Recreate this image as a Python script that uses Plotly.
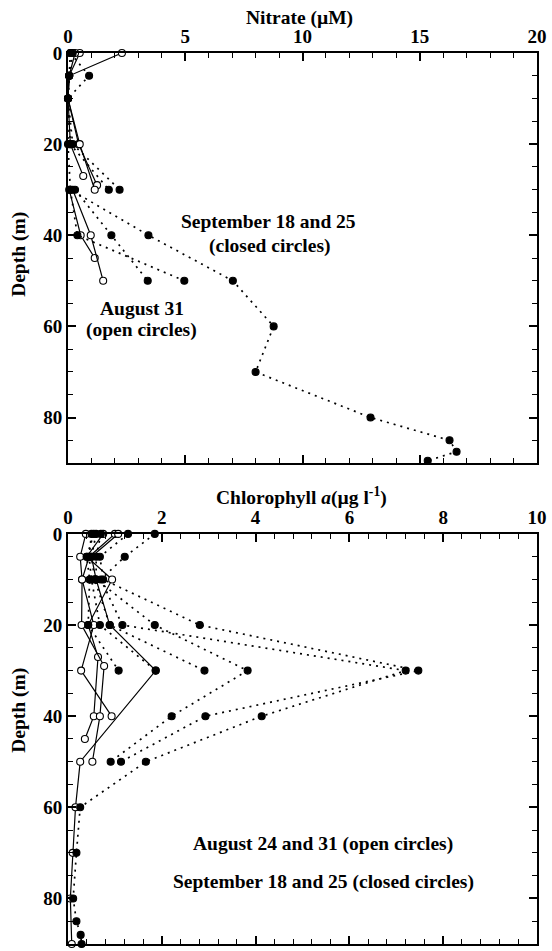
import plotly.graph_objects as go

# ---------------- Nitrate (top panel) ----------------
# Open circles (August 31), solid lines
nit_open_depths = [
    [0, 5, 10, 20, 27],
    [0, 5, 10, 20, 29],
    [0, 5, 10, 20, 30],
    [30, 40, 45],
    [30, 40, 50],
]
nit_open_values = [
    [2.3, 0.05, 0.0, 0.1, 0.65],
    [0.5, 0.05, 0.0, 0.45, 1.24],
    [0.3, 0.05, 0.0, 0.5, 1.14],
    [0.05, 0.54, 1.14],
    [0.2, 0.97, 1.5],
]
# Closed circles (September 18 and 25), dotted lines
nit_closed_depths = [
    [0, 5, 10, 20, 30],
    [0, 5, 10, 20, 30],
    [30, 40, 50],
    [30, 40, 50],
    [0, 5, 10, 20, 30, 40, 50, 60, 70, 80, 85, 87.5, 89.5],
]
nit_closed_values = [
    [0.1, 0.9, 0.0, 0.1, 1.74],
    [0.2, 0.05, 0.0, 0.2, 2.2],
    [0.3, 1.85, 3.4],
    [0.1, 0.4, 4.96],
    [0.1, 0.05, 0.0, 0.0, 0.1, 3.43, 7.03, 8.77, 8.0, 12.9, 16.27, 16.57, 15.34],
]

# ---------------- Chlorophyll a (bottom panel) ----------------
chl_open_depths = [
    [0, 5, 10, 20, 30, 40],
    [0, 5, 10, 20, 27, 40, 45],
    [0, 5, 10, 20, 29, 40, 50],
    [0, 5, 10, 20, 30, 50, 60, 70, 80, 90],
]
chl_open_values = [
    [0.38, 0.26, 0.3, 0.55, 0.28, 0.93],
    [0.75, 0.4, 0.94, 0.43, 0.64, 0.55, 0.36],
    [1.0, 0.45, 0.3, 0.29, 0.77, 0.68, 0.52],
    [1.07, 0.5, 0.6, 0.89, 1.87, 0.26, 0.16, 0.1, 0.05, 0.08],
]
chl_closed_depths = [
    [0, 5, 10, 20, 30, 40, 50, 60, 70, 80, 85, 88, 90],
    [0, 5, 10, 20, 30, 40, 50],
    [0, 5, 10, 20, 30, 40, 50],
    [0, 5, 10, 20, 30],
    [0, 5, 10, 20, 30],
    [0, 5, 10, 20, 30],
]
chl_closed_values = [
    [1.85, 1.21, 0.7, 1.16, 7.2, 4.13, 1.66, 0.26, 0.18, 0.11, 0.18, 0.27, 0.29],
    [1.28, 0.68, 0.75, 2.81, 7.47, 2.93, 1.13],
    [0.7, 0.6, 0.6, 1.85, 3.83, 2.21, 0.91],
    [0.6, 0.5, 0.57, 0.89, 2.91],
    [0.5, 0.45, 0.5, 0.68, 1.87],
    [0.55, 0.4, 0.46, 0.43, 1.08],
]

nitrate_title = "Nitrate (µM)"
chl_title = "Chlorophyll <i>a</i>(µg l<sup>-1</sup>)"
depth_title = "Depth (m)"
depth_ticks = [0, 20, 40, 60, 80]

FONT = "Liberation Serif"
fig = go.Figure()


def add_profiles(depths, values, xa, ya, opened):
    for d, v in zip(depths, values):
        fig.add_trace(go.Scatter(
            x=v, y=d, xaxis=xa, yaxis=ya, mode="lines+markers",
            line=dict(color="black", width=1.2 if opened else 1.7,
                      dash="solid" if opened else "2px,5px"),
            marker=dict(symbol="circle", size=7,
                        color="white" if opened else "black",
                        line=dict(color="black", width=1.1)),
            cliponaxis=False, showlegend=False, hoverinfo="skip"))


add_profiles(nit_open_depths, nit_open_values, "x", "y", True)
add_profiles(nit_closed_depths, nit_closed_values, "x", "y", False)
add_profiles(chl_open_depths, chl_open_values, "x2", "y2", True)
add_profiles(chl_closed_depths, chl_closed_values, "x2", "y2", False)

tickfont = dict(family=FONT, size=19, color="black", weight="bold")
common_x = dict(side="top", showgrid=False, zeroline=False, showline=True,
                linecolor="black", linewidth=2, mirror="ticks", ticks="inside",
                ticklen=8, tickwidth=1.5, tickcolor="black", tickfont=tickfont)
common_y = dict(showgrid=False, zeroline=False, showline=True, linecolor="black",
                linewidth=2, mirror="ticks", ticks="inside", ticklen=8, tickwidth=1.5,
                tickcolor="black", tickfont=tickfont, range=[90, 0],
                tickvals=depth_ticks, ticktext=[str(t) for t in depth_ticks],
                minor=dict(dtick=5, tick0=0, ticks="inside", ticklen=5,
                           tickwidth=1.2, tickcolor="black"))

H = 951
top_px, bot_px = 53, 5
ph = H - top_px - bot_px
d_top = [(H - bot_px - 464) / ph, 1.0]
d_bot = [0.0, (H - bot_px - 535) / ph]

fig.update_layout(
    width=552, height=951,
    margin=dict(l=68, r=12, t=top_px, b=bot_px),
    paper_bgcolor="white", plot_bgcolor="white",
    xaxis=dict(**common_x, range=[0, 20], tickvals=[0, 5, 10, 15, 20],
               minor=dict(dtick=1, tick0=0, ticks="inside", ticklen=5,
                          tickwidth=1.2, tickcolor="black"),
               anchor="y", domain=[0, 1]),
    yaxis=dict(**common_y, domain=d_top, anchor="x"),
    xaxis2=dict(**common_x, range=[0, 10], tickvals=[0, 2, 4, 6, 8, 10],
                minor=dict(dtick=0.4, tick0=0, ticks="inside", ticklen=5,
                           tickwidth=1.2, tickcolor="black"),
                anchor="y2", domain=[0, 1]),
    yaxis2=dict(**common_y, domain=d_bot, anchor="x2"),
)

afont = dict(family=FONT, size=19.5, color="black", weight="bold")


def pann(text, px, py, angle=0, size=19.5):
    x = (px - 68) / (552 - 68 - 12)
    y = (H - bot_px - py) / ph
    f = dict(afont)
    f["size"] = size
    fig.add_annotation(text=text, x=x, y=y, xref="paper", yref="paper",
                       xanchor="center", yanchor="middle", showarrow=False,
                       textangle=angle, font=f)


pann(nitrate_title, 301, 18)
pann(chl_title, 303, 497)
pann(depth_title, 18, 255, angle=-90)
pann(depth_title, 18, 712, angle=-90)
pann("September 18 and 25", 270, 222)
pann("(closed circles)", 271, 246)
pann("August 31", 142, 309)
pann("(open circles)", 142, 331)
pann("August 24 and 31 (open circles)", 325, 846)
pann("September 18 and 25 (closed circles)", 325, 884)

fig.write_html("out.html")
